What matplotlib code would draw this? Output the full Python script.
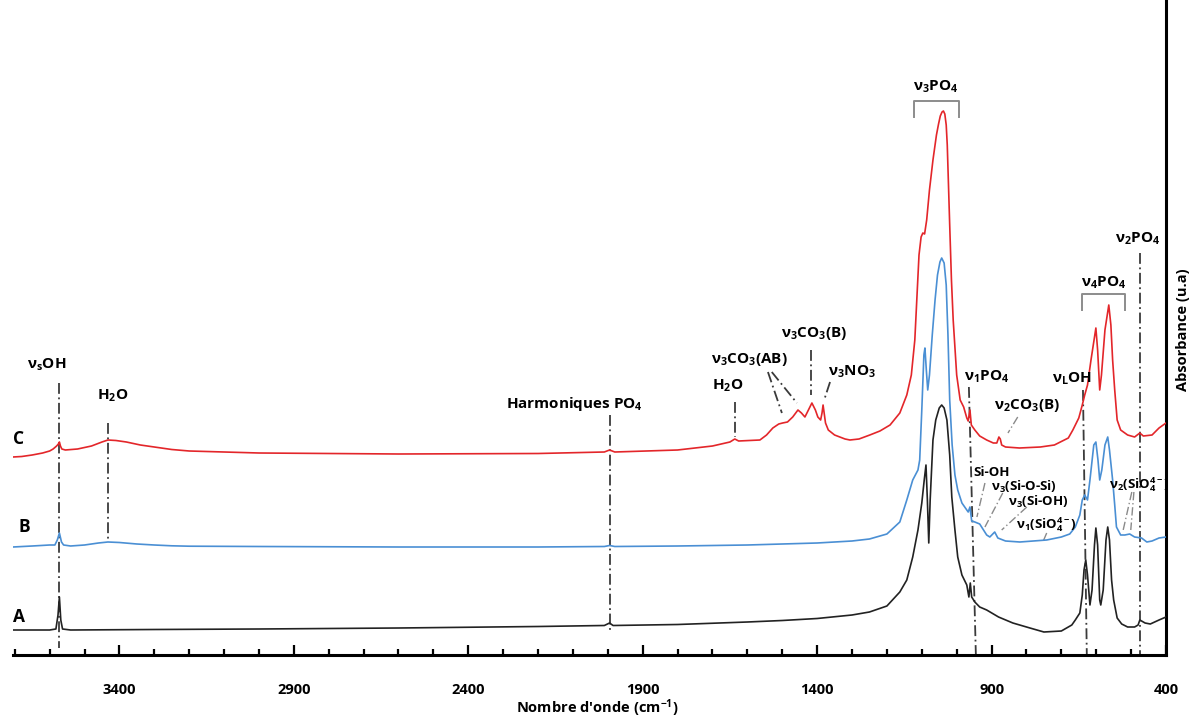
import matplotlib
matplotlib.use('Agg')
import matplotlib.pyplot as plt

plt.rcParams['font.family'] = ['Open Sans', 'DejaVu Sans']
plt.rcParams['font.weight'] = 'bold'
plt.rcParams['mathtext.fontset'] = 'custom'
plt.rcParams['mathtext.rm'] = 'Open Sans:bold'
plt.rcParams['mathtext.it'] = 'Open Sans:bold'
plt.rcParams['mathtext.bf'] = 'Open Sans:bold'
plt.rcParams['mathtext.sf'] = 'Open Sans:bold'

# ---- spectra (wavenumber cm-1, absorbance u.a, stacked) ----
wn_a = [3705, 3600, 3582, 3576, 3572, 3568, 3563, 3540, 3300, 3000, 2600, 2200, 2010, 1995, 1985,
        1800, 1600, 1500, 1400, 1300, 1250, 1200, 1163, 1143, 1126, 1111, 1100, 1093, 1088, 1084,
        1080, 1076, 1068, 1060, 1050, 1043, 1036, 1028, 1020, 1014, 1005, 997, 985, 971, 965, 961,
        957, 948, 934, 914, 880, 839, 790, 750, 700, 670, 660, 647, 640, 635, 630, 625, 618, 612,
        605, 601, 596, 590, 587, 580, 572, 567, 562, 556, 550, 540, 527, 510, 490, 480, 475, 470,
        460, 445, 420, 400]
abs_a = [0.25, 0.25, 0.26, 0.40, 0.58, 0.35, 0.26, 0.25, 0.255, 0.26, 0.27, 0.285, 0.295, 0.32, 0.295,
         0.305, 0.33, 0.345, 0.365, 0.40, 0.43, 0.49, 0.63, 0.75, 0.98, 1.25, 1.52, 1.75, 1.90, 1.55,
         1.12, 1.55, 2.15, 2.35, 2.47, 2.50, 2.47, 2.35, 2.00, 1.58, 1.25, 0.98, 0.80, 0.70, 0.58, 0.72,
         0.58, 0.53, 0.48, 0.45, 0.38, 0.32, 0.27, 0.23, 0.24, 0.30, 0.35, 0.42, 0.60, 0.85, 0.95, 0.80,
         0.50, 0.65, 1.10, 1.27, 1.10, 0.55, 0.50, 0.65, 1.15, 1.28, 1.15, 0.75, 0.55, 0.37, 0.31, 0.28,
         0.28, 0.30, 0.35, 0.34, 0.32, 0.31, 0.35, 0.38]

wn_b = [3705, 3650, 3600, 3585, 3578, 3572, 3566, 3560, 3540, 3500, 3460, 3433, 3400, 3350, 3300,
        3250, 3200, 3000, 2600, 2200, 2010, 1995, 1980, 1800, 1600, 1400, 1300, 1250, 1200, 1163,
        1143, 1126, 1111, 1106, 1100, 1094, 1091, 1087, 1083, 1078, 1070, 1062, 1055, 1048, 1043,
        1036, 1030, 1025, 1020, 1013, 1005, 997, 985, 971, 967, 962, 957, 948, 934, 914, 905, 891,
        882, 860, 819, 742, 700, 676, 660, 647, 640, 633, 625, 618, 607, 601, 595, 590, 584, 575,
        567, 562, 553, 547, 542, 530, 518, 504, 490, 470, 455, 440, 420, 400]
abs_b = [1.08, 1.09, 1.10, 1.10, 1.15, 1.22, 1.13, 1.10, 1.09, 1.10, 1.12, 1.13, 1.125, 1.11, 1.10,
         1.092, 1.088, 1.085, 1.08, 1.08, 1.085, 1.095, 1.085, 1.09, 1.10, 1.12, 1.14, 1.16, 1.21, 1.33,
         1.55, 1.75, 1.85, 1.95, 2.45, 3.00, 3.07, 2.85, 2.65, 2.80, 3.20, 3.55, 3.80, 3.93, 3.97,
         3.92, 3.70, 3.20, 2.55, 2.10, 1.80, 1.65, 1.52, 1.45, 1.43, 1.48, 1.34, 1.33, 1.31, 1.20,
         1.18, 1.23, 1.17, 1.14, 1.13, 1.15, 1.18, 1.21, 1.28, 1.40, 1.55, 1.60, 1.55, 1.75, 2.10,
         2.13, 1.95, 1.75, 1.85, 2.10, 2.18, 2.05, 1.75, 1.50, 1.28, 1.20, 1.20, 1.21, 1.18, 1.17,
         1.13, 1.14, 1.17, 1.18]

wn_c = [3705, 3680, 3650, 3620, 3600, 3590, 3580, 3575, 3572, 3569, 3565, 3555, 3520, 3480, 3450,
        3433, 3410, 3380, 3340, 3300, 3250, 3200, 3100, 3000, 2600, 2200, 2010, 1995, 1980, 1800,
        1700, 1650, 1636, 1625, 1564, 1545, 1527, 1510, 1499, 1485, 1470, 1455, 1445, 1435, 1425,
        1415, 1405, 1398, 1390, 1386, 1383, 1380, 1376, 1368, 1350, 1320, 1306, 1280, 1249, 1220,
        1191, 1163, 1143, 1130, 1120, 1113, 1108, 1102, 1097, 1092, 1086, 1078, 1068, 1058, 1052,
        1047, 1042, 1038, 1034, 1030, 1027, 1024, 1020, 1015, 1010, 1000, 990, 980, 971, 967, 962,
        958, 948, 934, 914, 895, 885, 879, 875, 871, 860, 820, 760, 720, 680, 667, 650, 640, 633,
        625, 615, 601, 596, 590, 585, 575, 564, 558, 553, 547, 540, 530, 510, 490, 475, 465, 440,
        420, 400]
abs_c = [1.98, 1.985, 2.00, 2.02, 2.04, 2.06, 2.09, 2.11, 2.13, 2.09, 2.06, 2.05, 2.06, 2.09, 2.13,
         2.15, 2.145, 2.13, 2.10, 2.08, 2.055, 2.04, 2.03, 2.02, 2.01, 2.015, 2.03, 2.05, 2.03, 2.05,
         2.09, 2.13, 2.16, 2.14, 2.15, 2.20, 2.27, 2.31, 2.32, 2.33, 2.38, 2.45, 2.42, 2.38, 2.45,
         2.52, 2.45, 2.38, 2.35, 2.42, 2.50, 2.42, 2.32, 2.25, 2.20, 2.16, 2.15, 2.16, 2.20, 2.24,
         2.30, 2.42, 2.60, 2.80, 3.15, 3.65, 4.00, 4.18, 4.22, 4.21, 4.35, 4.65, 4.95, 5.20, 5.31,
         5.39, 5.43, 5.44, 5.41, 5.30, 5.10, 4.75, 4.30, 3.75, 3.35, 2.80, 2.55, 2.48, 2.37, 2.34, 2.45,
         2.30, 2.25, 2.19, 2.15, 2.12, 2.12, 2.18, 2.16, 2.10, 2.08, 2.07, 2.08, 2.10, 2.17, 2.25, 2.37,
         2.50, 2.60, 2.70, 2.95, 3.27, 3.05, 2.65, 2.80, 3.25, 3.50, 3.30, 2.95, 2.65, 2.35, 2.25, 2.20,
         2.18, 2.22, 2.19, 2.20, 2.27, 2.32]

sample_names = ['A', 'B', 'C']
sample_colors = ['#222222', '#4a8fd4', '#e3262a']
x_ticks = [3400, 2900, 2400, 1900, 1400, 900, 400]

fig = plt.figure(figsize=(11.92, 7.18), dpi=100)
ax = fig.add_axes([13 / 1192, 63 / 718, 1153 / 1192, 655 / 718])

for wn, ab, col in zip([wn_a, wn_b, wn_c], [abs_a, abs_b, abs_c], sample_colors):
    ax.plot(wn, ab, color=col, lw=1.2, zorder=3, solid_joinstyle='round')

ax.set_xlim(3705, 400)
ax.set_ylim(0, 6.55)
for s in ['top', 'left']:
    ax.spines[s].set_visible(False)
ax.spines['bottom'].set_linewidth(2.2)
ax.spines['right'].set_linewidth(2.2)
ax.set_yticks([])
ax.set_xticks(x_ticks)
ax.set_xticks(range(3700, 399, -100), minor=True)
ax.tick_params(axis='x', which='major', direction='in', length=7, width=1.6, pad=20, labelsize=10.5)
ax.tick_params(axis='x', which='minor', direction='in', length=4, width=1.6)
for lab in ax.get_xticklabels():
    lab.set_fontweight('bold')

fig.text(597 / 1192, 1 - 708 / 718, "Nombre d'onde (cm$^{-1}$)", ha='center', va='center',
         fontsize=10.5, fontweight='bold')
fig.text(1183 / 1192, 1 - 330 / 718, 'Absorbance (u.a)', ha='center', va='center',
         rotation=90, fontsize=10.5, fontweight='bold')

# sample letters
for name, xy in zip(sample_names, [(3688, 0.38), (3672, 1.28), (3688, 2.16)]):
    ax.text(xy[0], xy[1], name, ha='center', va='center', fontsize=12.5, fontweight='bold')

dd = (0, (6, 2, 1, 2))
dark = '#3a3a3a'
light = '#8a8a8a'


def vline(x0, y0, x1, y1, col=dark, lw=1.3):
    ax.plot([x0, x1], [y0, y1], ls=dd, color=col, lw=lw, zorder=2, clip_on=False)


def label(x, y, s, fs=11):
    ax.text(x, y, s, ha='center', va='center', fontsize=fs, fontweight='bold', zorder=5, clip_on=False)


def bracket(x0, x1, ytop, yend):
    ax.plot([x0, x0, x1, x1], [yend, ytop, ytop, yend], color='#8c8c8c', lw=1.4, zorder=2)


label(3608, 2.90, r'ν$_{s}$OH')
vline(3572, 2.72, 3572, 0.07)
label(3418, 2.59, r'H$_2$O')
vline(3433, 2.32, 3433, 1.15)
label(2097, 2.51, r'Harmoniques PO$_4$')
vline(1994, 2.40, 1994, 0.23)
label(1656, 2.69, r'H$_2$O')
vline(1636, 2.53, 1636, 2.18)
label(1593, 2.95, r'ν$_3$CO$_3$(AB)')
vline(1541, 2.83, 1501, 2.42)
vline(1530, 2.83, 1458, 2.52)
label(1409, 3.21, r'ν$_3$CO$_3$(B)')
vline(1418, 3.05, 1418, 2.60)
label(1300, 2.83, r'ν$_3$NO$_3$')
vline(1363, 2.73, 1378, 2.57)
label(1060, 5.68, r'ν$_3$PO$_4$')
bracket(1123, 994, 5.54, 5.38)
label(914, 2.78, r'ν$_1$PO$_4$')
vline(965, 2.68, 945, 0.0)
label(799, 2.50, r'ν$_2$CO$_3$(B)')
vline(825, 2.38, 853, 2.22, col=light, lw=1.0)
label(670, 2.76, r'ν$_L$OH')
vline(638, 2.65, 627, 0.0)
label(578, 3.72, r'ν$_4$PO$_4$')
bracket(641, 518, 3.61, 3.45)
label(481, 4.16, r'ν$_2$PO$_4$')
vline(475, 4.02, 475, 0.0)

label(899, 1.82, 'Si-OH', fs=9.5)
vline(919, 1.72, 942, 1.38, col=light, lw=1.0)
label(808, 1.68, r'ν$_3$(Si-O-Si)', fs=9.5)
vline(868, 1.62, 919, 1.28, col=light, lw=1.0)
label(767, 1.53, r'ν$_3$(Si-OH)', fs=9.5)
vline(799, 1.48, 871, 1.25, col=light, lw=1.0)
label(742, 1.30, r'ν$_1$(SiO$_4^{4-}$)', fs=9.5)
vline(742, 1.22, 753, 1.13, col=light, lw=1.0)
label(475, 1.70, r'ν$_2$(SiO$_4^{4-}$)', fs=9.5)
vline(498, 1.63, 524, 1.23, col=light, lw=1.0)
vline(492, 1.63, 501, 1.25, col=light, lw=1.0)

fig.savefig('out.png', dpi=100)
